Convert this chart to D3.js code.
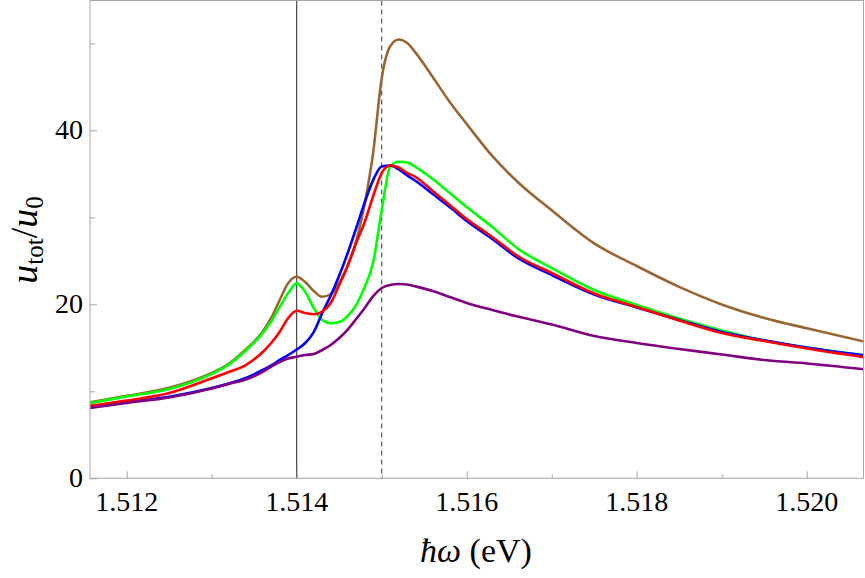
<!DOCTYPE html>
<html>
<head>
<meta charset="utf-8">
<script src="https://cdn.jsdelivr.net/npm/d3@7"></script>
<style>
    body { margin: 0; background: #fff; }
    svg { display: block; }
</style>
</head>
<body>
<svg id="chart" width="865" height="578"></svg>
<script>
// Photon energy grid (eV)
const energy = [1.51155, 1.5120, 1.5125, 1.5130, 1.5132, 1.5134, 1.5136, 1.5137, 1.5138, 1.5139,
    1.5140, 1.5141, 1.5142, 1.5143, 1.5144, 1.5145, 1.5146, 1.5147, 1.5148, 1.5149,
    1.5150, 1.5151, 1.5152, 1.5153, 1.5154, 1.5156, 1.5158, 1.5160, 1.5163, 1.5166,
    1.5170, 1.5175, 1.5180, 1.5185, 1.5190, 1.5195, 1.5200, 1.5207];

// u_tot / u_0 for each curve
const brownVals = [8.71, 9.48, 10.4, 12.1, 13.16, 14.8, 16.87, 18.43, 20.5, 22.45,
    23.17, 22.56, 21.53, 20.86, 21.18, 22.45, 24.52, 27.3, 31.6, 37.5,
    46.0, 49.66, 50.44, 50.03, 48.9, 46.13, 43.25, 40.72, 37.05, 34.06,
    30.8, 27.0, 24.4, 22.0, 19.98, 18.43, 17.24, 15.67];
const greenVals = [8.62, 9.40, 10.26, 12.0, 13.06, 14.69, 16.69, 18.02, 19.71, 21.3,
    22.41, 21.41, 19.57, 18.2, 17.82, 17.97, 18.66, 19.92, 21.99, 24.86,
    30.84, 35.84, 36.39, 36.3, 35.78, 34.4, 32.79, 31.18, 28.89, 26.41,
    24.17, 21.64, 19.92, 18.37, 16.99, 15.84, 15.03, 14.11];
const blueVals = [8.16, 8.77, 9.38, 10.38, 10.9, 11.53, 12.45, 12.97, 13.6, 14.17,
    14.8, 15.55, 16.8, 19.0, 21.0, 23.3, 25.9, 28.77, 31.7, 34.3,
    35.85, 35.95, 35.5, 34.8, 34.17, 32.68, 31.18, 29.57, 27.51, 25.32,
    23.37, 21.13, 19.63, 18.2, 16.82, 15.86, 15.03, 14.11];
const redVals = [8.31, 8.94, 9.8, 11.49, 12.22, 13.02, 14.52, 15.55, 16.85, 18.43,
    19.26, 19.0, 18.85, 19.17, 20.15, 22.22, 24.4, 27.05, 29.46, 32.45,
    35.09, 35.95, 35.72, 35.09, 34.63, 33.02, 31.41, 29.8, 27.74, 25.55,
    23.6, 21.24, 19.69, 18.14, 16.7, 15.78, 14.92, 13.89];
const purpleVals = [8.05, 8.66, 9.29, 10.32, 10.84, 11.36, 12.22, 12.85, 13.37, 13.77,
    13.98, 14.17, 14.29, 14.75, 15.32, 16.13, 17.1, 18.31, 19.57, 20.95,
    21.87, 22.22, 22.33, 22.28, 22.05, 21.53, 20.84, 20.15, 19.34, 18.6,
    17.68, 16.36, 15.55, 14.86, 14.23, 13.6, 13.2, 12.51];

const xMajorTicks = [1.512, 1.514, 1.516, 1.518, 1.520];
const xMinorTicks = [1.513, 1.515, 1.517, 1.519];
const yMajorTicks = [0, 20, 40];
const yMinorTicks = [10, 30, 50];
const markerSolid = 1.514;
const markerDashed = 1.515;

const series = [
    {name: 'brown', color: '#996633', values: brownVals},
    {name: 'green', color: '#00ff00', values: greenVals},
    {name: 'blue', color: '#0000ff', values: blueVals},
    {name: 'red', color: '#ff0000', values: redVals},
    {name: 'purple', color: '#800080', values: purpleVals}
];

const svg = d3.select('#chart');
const plotLeft = 90, plotRight = 863.5, plotTop = 0.5, plotBottom = 478.3;

// Scales
const xScale = d3.scaleLinear()
    .domain([1.511568, 1.520668])
    .range([plotLeft, plotRight]);
const yScale = d3.scaleLinear()
    .domain([0, 54.92])
    .range([plotBottom, plotTop]);

svg.append('clipPath').attr('id', 'plot-clip')
    .append('rect')
    .attr('x', plotLeft).attr('y', plotTop)
    .attr('width', plotRight - plotLeft).attr('height', plotBottom - plotTop);

// Reference lines
svg.append('line')
    .attr('x1', xScale(markerSolid)).attr('x2', xScale(markerSolid))
    .attr('y1', plotTop).attr('y2', plotBottom)
    .attr('stroke', '#222').attr('stroke-width', 1);
svg.append('line')
    .attr('x1', xScale(markerDashed)).attr('x2', xScale(markerDashed))
    .attr('y1', plotTop).attr('y2', plotBottom)
    .attr('stroke', '#333').attr('stroke-width', 1)
    .attr('stroke-dasharray', '5,4');

// Curves
const line = d3.line()
    .x((d, i) => xScale(energy[i]))
    .y(d => yScale(d))
    .curve(d3.curveMonotoneX);

svg.append('g').attr('clip-path', 'url(#plot-clip)')
    .selectAll('path')
    .data(series)
    .join('path')
    .attr('d', d => line(d.values))
    .attr('fill', 'none')
    .attr('stroke', d => d.color)
    .attr('stroke-width', 2.6)
    .attr('stroke-linejoin', 'round');

// Frame
svg.append('rect')
    .attr('x', plotLeft).attr('y', plotTop)
    .attr('width', plotRight - plotLeft).attr('height', plotBottom - plotTop)
    .attr('fill', 'none').attr('stroke', '#a6a6a6').attr('stroke-width', 1);

// X axis ticks (inside frame)
const xAxis = d3.axisTop(xScale).tickValues(xMajorTicks).tickSize(7).tickFormat('');
const gX = svg.append('g').attr('transform', `translate(0,${plotBottom})`).call(xAxis);
const xAxisMinor = d3.axisTop(xScale).tickValues(xMinorTicks).tickSize(4).tickFormat('');
const gXm = svg.append('g').attr('transform', `translate(0,${plotBottom})`).call(xAxisMinor);

// Y axis ticks (inside frame)
const yAxis = d3.axisRight(yScale).tickValues(yMajorTicks).tickSize(7).tickFormat('');
const gY = svg.append('g').attr('transform', `translate(${plotLeft},0)`).call(yAxis);
const yAxisMinor = d3.axisRight(yScale).tickValues(yMinorTicks).tickSize(5).tickFormat('');
const gYm = svg.append('g').attr('transform', `translate(${plotLeft},0)`).call(yAxisMinor);

[gX, gXm, gY, gYm].forEach(g => {
    g.select('.domain').remove();
    g.selectAll('line').attr('stroke', '#a6a6a6');
});

// Tick labels
svg.append('g').selectAll('text')
    .data(xMajorTicks)
    .join('text')
    .style('font-family', '"Liberation Serif"')
    .style('font-size', '28px')
    .attr('x', d => xScale(d))
    .attr('y', 511)
    .attr('text-anchor', 'middle')
    .text(d => d3.format('.3f')(d));

svg.append('g').selectAll('text')
    .data(yMajorTicks)
    .join('text')
    .style('font-family', '"Liberation Serif"')
    .style('font-size', '28px')
    .attr('x', 83)
    .attr('y', d => yScale(d) + 9)
    .attr('text-anchor', 'end')
    .text(d => d);

// Axis titles
const xTitle = svg.append('text')
    .style('font-family', '"Liberation Serif"')
    .style('font-size', '34px')
    .attr('x', 476)
    .attr('y', 562)
    .attr('text-anchor', 'middle');
xTitle.append('tspan').style('font-style', 'italic').text('\u0127\u03c9');
xTitle.append('tspan').text(' (eV)');

const yTitle = svg.append('text')
    .style('font-family', '"Liberation Serif"')
    .style('font-size', '38px')
    .attr('transform', 'translate(37,240) rotate(-90)')
    .attr('text-anchor', 'middle');
yTitle.append('tspan').style('font-style', 'italic').text('u');
yTitle.append('tspan').style('font-size', '25px').attr('dy', 6).text('tot');
yTitle.append('tspan').attr('dy', -6).text('/');
yTitle.append('tspan').style('font-style', 'italic').text('u');
yTitle.append('tspan').style('font-size', '25px').attr('dy', 6).text('0');
</script>
</body>
</html>
